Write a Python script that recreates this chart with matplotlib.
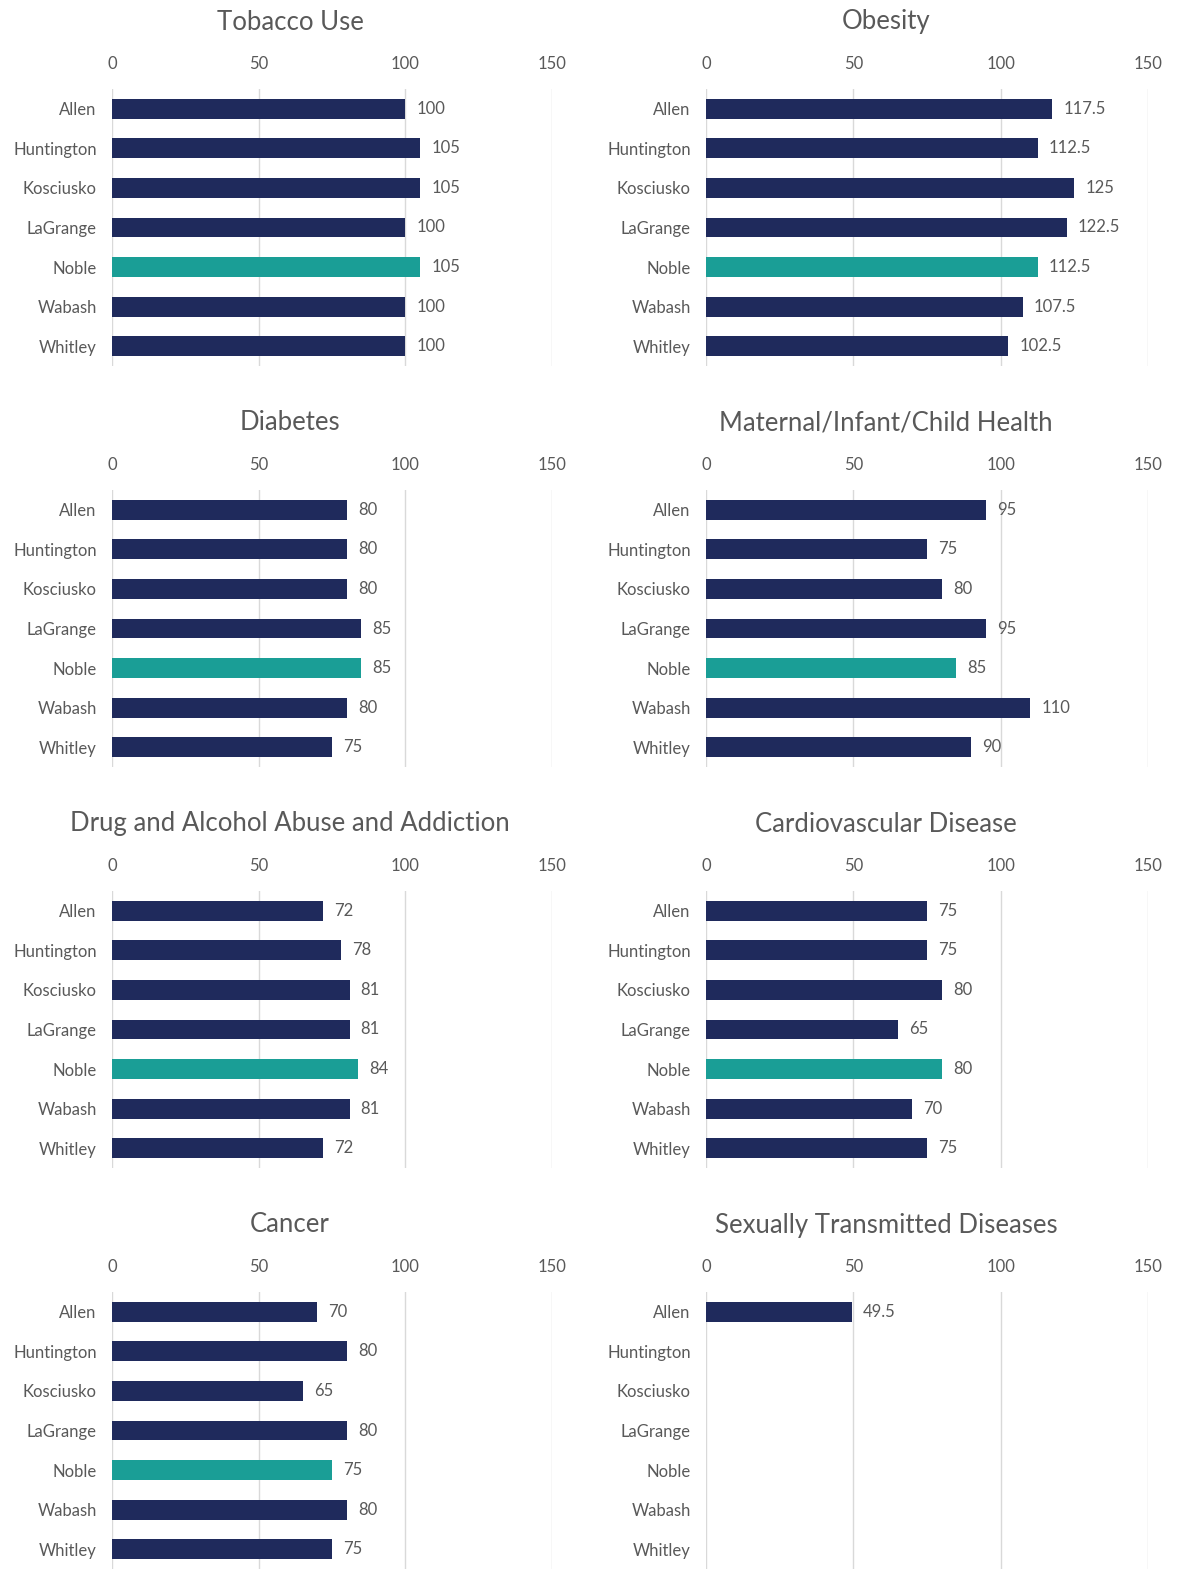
"""Health priority scores by county, small-multiple bar charts."""
import numpy as np
import matplotlib
matplotlib.use("Agg")
import matplotlib.pyplot as plt

counties = ["Allen", "Huntington", "Kosciusko", "LaGrange", "Noble", "Wabash", "Whitley"]

tobacco_use = [100, 105, 105, 100, 105, 100, 100]
obesity = [117.5, 112.5, 125, 122.5, 112.5, 107.5, 102.5]
diabetes = [80, 80, 80, 85, 85, 80, 75]
maternal_health = [95, 75, 80, 95, 85, 110, 90]
drug_alcohol = [72, 78, 81, 81, 84, 81, 72]
cardiovascular = [75, 75, 80, 65, 80, 70, 75]
cancer = [70, 80, 65, 80, 75, 80, 75]
std = [49.5, None, None, None, None, None, None]

panels = [
    ("Tobacco Use", tobacco_use),
    ("Obesity", obesity),
    ("Diabetes", diabetes),
    ("Maternal/Infant/Child Health", maternal_health),
    ("Drug and Alcohol Abuse and Addiction", drug_alcohol),
    ("Cardiovascular Disease", cardiovascular),
    ("Cancer", cancer),
    ("Sexually Transmitted Diseases", std),
]

NAVY = "#1f2a5c"
TEAL = "#1a9e96"
TEXT = "#595959"
GRID = "#d9d9d9"
HIGHLIGHT = "Noble"

plt.rcParams["font.family"] = ["Lato", "DejaVu Sans"]

W, H = 1181, 1589
fig = plt.figure(figsize=(W / 100, H / 100), dpi=100)

col_left = [112, 706]
col_width = [440, 442]
col_center = [290, 886]
row_top = [89, 490, 891, 1292]
ax_height = 277


def fmt(v):
    return f"{v:g}"


for i, (title, values) in enumerate(panels):
    row, col = divmod(i, 2)
    left = col_left[col] / W
    bottom = 1 - (row_top[row] + ax_height) / H
    ax = fig.add_axes([left, bottom, col_width[col] / W, ax_height / H])

    y = np.arange(len(counties))
    for yi, (name, v) in enumerate(zip(counties, values)):
        if v is None:
            continue
        color = TEAL if name == HIGHLIGHT else NAVY
        ax.barh(yi, v, height=0.5, color=color, zorder=3)
        ax.annotate(fmt(v), (v, yi), xytext=(8, 0), textcoords="offset points",
                    va="center", ha="left", fontsize=12, color=TEXT)

    ax.set_xlim(0, 150)
    ax.set_ylim(len(counties) - 0.5, -0.5)
    ax.set_xticks([0, 50, 100, 150])
    ax.set_yticks(y)
    ax.set_yticklabels(counties)
    ax.xaxis.tick_top()
    ax.tick_params(axis="x", length=0, pad=12, labelsize=12, labelcolor=TEXT)
    ax.tick_params(axis="y", length=0, pad=11, labelsize=12, labelcolor=TEXT)
    ax.grid(axis="x", color=GRID, linewidth=1, zorder=0)
    for s in ax.spines.values():
        s.set_visible(False)

    fig.text(col_center[col] / W, 1 - (row_top[row] - 67) / H, title,
             ha="center", va="center", fontsize=18.5, color=TEXT)

fig.savefig("out.png", dpi=100, facecolor="white")
